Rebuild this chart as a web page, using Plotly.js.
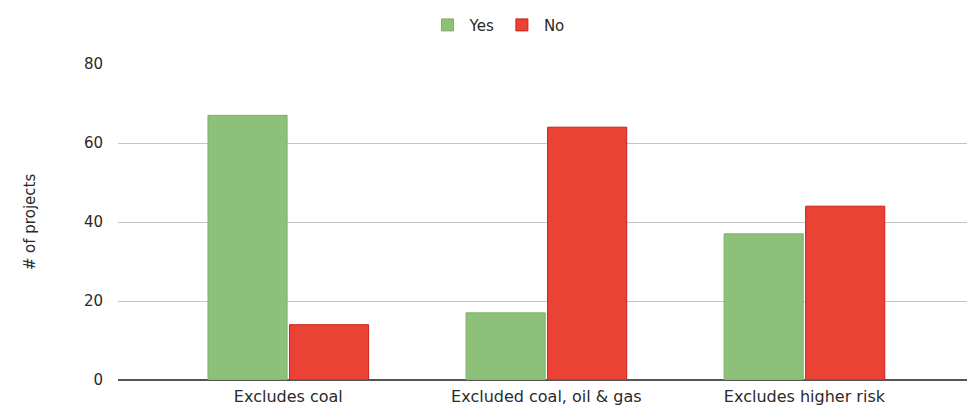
<!DOCTYPE html>
<html>
<head>
<meta charset="utf-8">
<script src="https://cdn.plot.ly/plotly-3.0.1.min.js"></script>
<style>html,body{margin:0;padding:0;background:#fff;}#chart{width:967px;height:407px;}</style>
</head>
<body>
<div id="chart"></div>
<script>
const categories = ["Excludes coal", "Excluded coal, oil & gas", "Excludes higher risk"];
const yesValues = [67, 17, 37];
const noValues = [14, 64, 44];
const yTicks = [0, 20, 40, 60, 80];

const fam = "DejaVu Sans, Liberation Sans, Arial, sans-serif";
const ink = "#2a2a2a";

const traces = [
  {type: "bar", name: "Yes", x: categories, y: yesValues,
   marker: {color: "#8dc078", line: {color: "#7cb066", width: 1}}},
  {type: "bar", name: "No", x: categories, y: noValues,
   marker: {color: "#ea4335", line: {color: "#cc1f18", width: 1}}}
];

const layout = {
  width: 967, height: 407,
  margin: {l: 118, r: 0, t: 64, b: 27, pad: 0},
  paper_bgcolor: "#fff", plot_bgcolor: "#fff",
  font: {family: fam, size: 15, color: ink},
  barmode: "group", bargap: 0.368, bargroupgap: 0.03,
  showlegend: true,
  legend: {orientation: "h", x: 0.447, xanchor: "center", y: 1.123, yanchor: "middle",
           font: {family: fam, size: 15, color: ink}, itemwidth: 34, traceorder: "normal"},
  xaxis: {type: "category", range: [-0.66, 2.63], showgrid: false, zeroline: false,
          showline: false, ticks: "", ticklabelstandoff: 5,
          tickfont: {family: fam, size: 16, color: ink}},
  yaxis: {range: [0, 80], tickvals: yTicks, ticktext: yTicks.map(String),
          showgrid: true, gridcolor: "#c4c4c4", gridwidth: 1,
          zeroline: true, zerolinecolor: "#555", zerolinewidth: 1.5,
          ticks: "", ticklabelstandoff: 14,
          tickfont: {family: fam, size: 15, color: ink},
          title: {text: "# of projects", standoff: 44, font: {family: fam, size: 15, color: ink}}}
};

Plotly.newPlot("chart", traces, layout, {displayModeBar: false, staticPlot: true});
</script>
</body>
</html>
